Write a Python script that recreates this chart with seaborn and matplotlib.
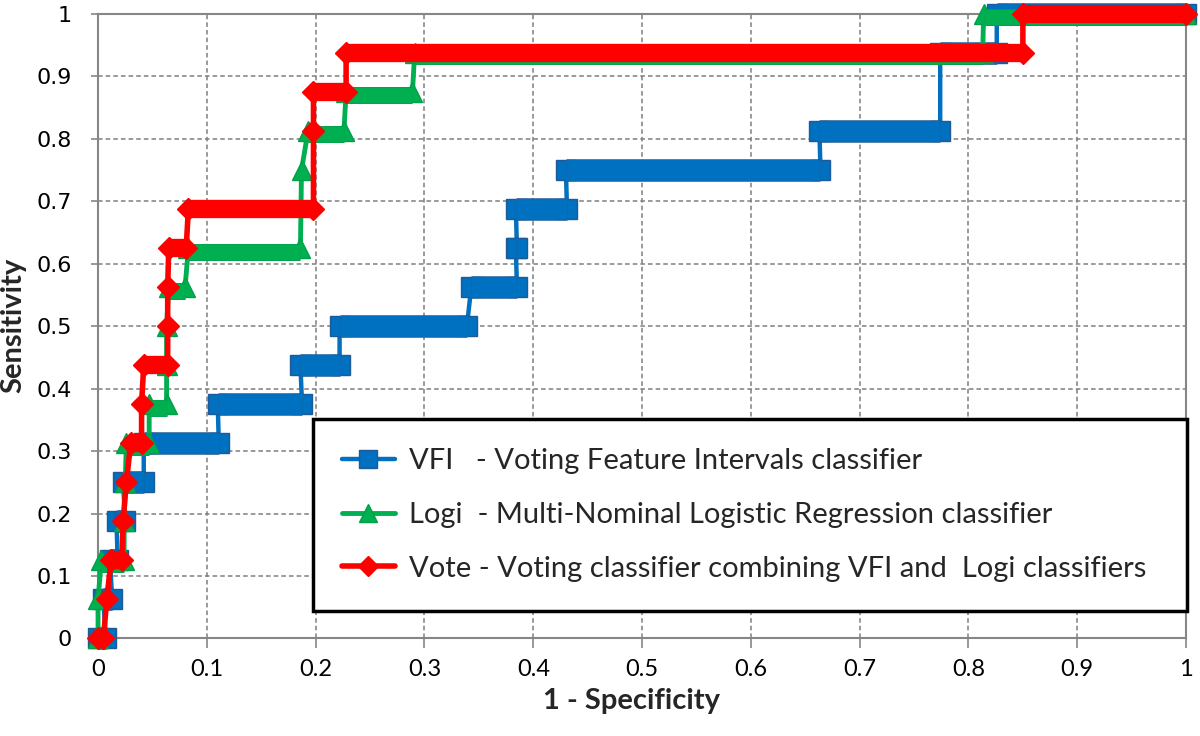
import numpy as np
import pandas as pd
import seaborn as sns
import matplotlib.pyplot as plt
import matplotlib.patheffects as pe
from matplotlib.transforms import offset_copy

# ROC curves: each entry is one horizontal run (tpr level, fpr from, fpr to)
vfi_tpr = [0, 0.0625, 0.125, 0.1875, 0.25, 0.3125, 0.375, 0.4375, 0.5, 0.5625, 0.625, 0.6875, 0.75, 0.8125, 0.9375, 1.0]
vfi_fpr_from = [0.0, 0.005, 0.011, 0.017, 0.023, 0.042, 0.110, 0.186, 0.222, 0.343, 0.384, 0.384, 0.430, 0.663, 0.774, 0.826]
vfi_fpr_to = [0.007, 0.013, 0.018, 0.025, 0.042, 0.111, 0.1875, 0.222, 0.339, 0.385, 0.385, 0.431, 0.664, 0.774, 0.826, 1.0]

logi_tpr = [0, 0.0625, 0.125, 0.1875, 0.25, 0.3125, 0.375, 0.4375, 0.5, 0.5625, 0.625, 0.75, 0.8125, 0.875, 0.9375, 1.0]
logi_fpr_from = [0.0, 0.0, 0.003, 0.024, 0.025, 0.026, 0.047, 0.063, 0.063, 0.065, 0.083, 0.187, 0.193, 0.228, 0.291, 0.814]
logi_fpr_to = [0.0, 0.0, 0.024, 0.024, 0.025, 0.047, 0.063, 0.063, 0.063, 0.080, 0.186, 0.187, 0.226, 0.289, 0.813, 1.0]

vote_tpr = [0, 0.0625, 0.125, 0.1875, 0.25, 0.3125, 0.375, 0.4375, 0.5, 0.5625, 0.625, 0.6875, 0.8125, 0.875, 0.9375, 1.0]
vote_fpr_from = [0.0, 0.008, 0.012, 0.023, 0.026, 0.030, 0.040, 0.042, 0.064, 0.064, 0.065, 0.083, 0.198, 0.198, 0.228, 0.850]
vote_fpr_to = [0.005, 0.008, 0.022, 0.023, 0.026, 0.040, 0.040, 0.064, 0.064, 0.064, 0.081, 0.198, 0.198, 0.228, 0.850, 1.0]

labels = ["VFI   - Voting Feature Intervals classifier",
          "Logi  - Multi-Nominal Logistic Regression classifier",
          "Vote - Voting classifier combining VFI and  Logi classifiers"]
ticks = [0, 0.1, 0.2, 0.3, 0.4, 0.5, 0.6, 0.7, 0.8, 0.9, 1]

sns.set_theme(style="whitegrid")
plt.rcParams['font.family'] = ['Lato', 'DejaVu Sans']

fig = plt.figure(figsize=(12, 7.36), dpi=100)
ax = fig.add_axes([0.0817, 0.1325, 0.9067, 0.8485])


def runs_to_frame(tpr, fpr_from, fpr_to):
    xs, ys = [], []
    for y, a, b in zip(tpr, fpr_from, fpr_to):
        xs.append(a)
        ys.append(y)
        if b != a:
            xs.append(b)
            ys.append(y)
    return pd.DataFrame({"fpr": xs, "tpr": ys})


curves = [
    # tpr, from, to, colour, edge, marker, ms, line width, band width, band offset (pt)
    (vfi_tpr, vfi_fpr_from, vfi_fpr_to, "#0070C0", "#1F5A96", "s", 15, 3.2, 15, 0),
    (logi_tpr, logi_fpr_from, logi_fpr_to, "#00B050", "#00A048", "^", 15, 3.5, 11, -2.4),
    (vote_tpr, vote_fpr_from, vote_fpr_to, "#FF0000", "#FF0000", "D", 11, 4.0, 12, 0),
]

for k, (tpr, f0, f1, col, edge, mk, ms, lw, band, off) in enumerate(curves):
    z = 3 + k
    df = runs_to_frame(tpr, f0, f1)
    sns.lineplot(data=df, x="fpr", y="tpr", sort=False, estimator=None, ax=ax,
                 color=col, lw=lw, marker=mk, markersize=ms, markeredgecolor=edge,
                 markeredgewidth=1, label=labels[k], zorder=z + 0.5, clip_on=False)
    trans = offset_copy(ax.transData, fig=fig, y=off, units="points")
    for y, a, b in zip(tpr, f0, f1):
        if b > a:
            effects = [pe.Stroke(linewidth=band + 1.2, foreground=edge), pe.Normal()]
            ax.plot([a, b], [y, y], color=col, lw=band, solid_capstyle="butt",
                    transform=trans, zorder=z + 0.7, clip_on=False, path_effects=effects)

ax.set_xlim(0, 1)
ax.set_ylim(0, 1)
ax.set_xticks(ticks)
ax.set_yticks(ticks)
ax.set_xticklabels([f"{t:g}" for t in ticks])
ax.set_yticklabels([f"{t:g}" for t in ticks], fontfamily=['DejaVu Sans'])
ax.tick_params(axis="x", which="major", bottom=True, length=7, width=1.2, color="#868686",
               pad=8, labelsize=17, labelcolor="black")
ax.tick_params(axis="y", which="major", left=True, length=5, width=1.2, color="#868686",
               pad=14, labelsize=16, labelcolor="black")
ax.grid(True, color="#7f7f7f", lw=1.1, ls=(0, (3, 2)))
for s in ax.spines.values():
    s.set_visible(True)
    s.set_color("#868686")
    s.set_linewidth(1.5)

ax.set_xlabel("1 - Specificity", fontsize=21, fontweight="bold")
ax.set_ylabel("Sensitivity", fontsize=21, fontweight="bold")
ax.xaxis.set_label_coords(0.49, -0.079)
ax.yaxis.set_label_coords(-0.066, 0.502)

handles, labs = ax.get_legend_handles_labels()
leg = ax.legend(handles, labs, loc="upper left", bbox_to_anchor=(0.1976, 0.041, 0.8033, 0.3105),
                mode="expand", fontsize=21, frameon=True, fancybox=False, framealpha=1,
                edgecolor="black", borderpad=1.0, labelspacing=0.95, handlelength=1.8,
                handletextpad=0.5, borderaxespad=0)
leg.get_frame().set_linewidth(2.5)
leg.set_zorder(10)
for h in leg.legend_handles:
    h.set_markersize(h.get_markersize() * 0.9)

fig.savefig("out.png", dpi=100)
